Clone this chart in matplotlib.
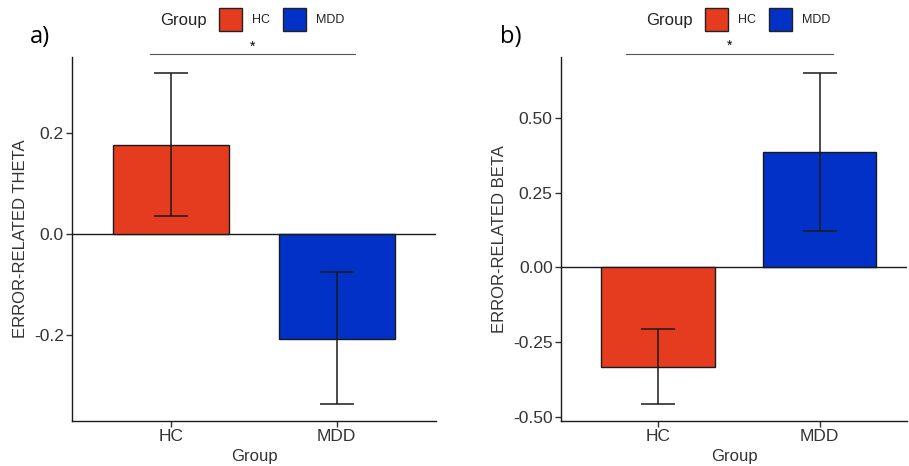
import numpy as np
import matplotlib.pyplot as plt
from matplotlib.patches import Rectangle

# data
groups = ["HC", "MDD"]
theta_mean = [0.177, -0.209]
theta_lo = [0.036, -0.338]
theta_hi = [0.320, -0.076]
beta_mean = [-0.333, 0.388]
beta_lo = [-0.459, 0.123]
beta_hi = [-0.206, 0.653]
colors = ["#E53B1F", "#0131C6"]

plt.rcParams["font.family"] = ["Liberation Sans", "DejaVu Sans"]

fig = plt.figure(figsize=(9.09, 4.66), dpi=100)
ax_a = fig.add_axes([72 / 909, 45 / 466, 364 / 909, 364 / 466])
ax_b = fig.add_axes([561 / 909, 45 / 466, 346 / 909, 364 / 466])


def draw_panel(ax, mean, lo, hi, xlim, ylim, yticks, ylabel, sig):
    x = np.arange(1, len(groups) + 1)
    mean = np.array(mean)
    err = [mean - np.array(lo), np.array(hi) - mean]
    ax.bar(x, mean, width=0.7, color=colors, edgecolor="#1a1a1a",
           linewidth=1.0, zorder=2)
    ax.errorbar(x, mean, yerr=err, fmt="none", ecolor="#1a1a1a",
                elinewidth=1.1, capsize=12, capthick=1.1, zorder=3)
    ax.axhline(0, color="#1a1a1a", linewidth=1.0, zorder=1)
    ax.set_xlim(*xlim)
    ax.set_ylim(*ylim)
    ax.set_xticks(x)
    ax.set_xticklabels(groups, fontsize=12.5)
    ax.set_yticks(yticks)
    ax.set_yticklabels([f"{t:.2f}" if sig[3] else f"{t:.1f}" for t in yticks],
                       fontsize=12.5, color="#333333")
    for lab in ax.get_xticklabels():
        lab.set_color("#333333")
    ax.set_xlabel("Group", fontsize=12, color="#333333", labelpad=3)
    ax.set_ylabel(ylabel, fontsize=12, color="#333333", labelpad=4)
    for s in ["top", "right"]:
        ax.spines[s].set_visible(False)
    for s in ["left", "bottom"]:
        ax.spines[s].set_linewidth(1.0)
        ax.spines[s].set_color("#1a1a1a")
    ax.tick_params(length=4, width=1.0, color="#333333", pad=2)
    # significance bar
    x0, x1, ybar, ystar = sig[0], sig[1], sig[2], sig[4]
    ax.plot([x0, x1], [ybar, ybar], color="#555555", linewidth=0.8,
            clip_on=False)
    ax.text((x0 + x1) / 2, ystar, "*", ha="center", va="center",
            fontsize=10, clip_on=False)


draw_panel(ax_a, theta_mean, theta_lo, theta_hi, (0.4, 2.6), (-0.372, 0.352),
           [-0.2, 0.0, 0.2], "ERROR-RELATED THETA",
           (0.87, 2.11, 0.358, False, 0.372))
draw_panel(ax_b, beta_mean, beta_lo, beta_hi, (0.4, 2.54), (-0.515, 0.706),
           [-0.50, -0.25, 0.0, 0.25, 0.50], "ERROR-RELATED BETA",
           (0.80, 2.08, 0.716, True, 0.742))

# panel letters
fig.text(30 / 909, 1 - 37 / 466, "a)", fontsize=17, va="center",
         family=["Open Sans", "DejaVu Sans"])
fig.text(500 / 909, 1 - 37 / 466, "b)", fontsize=17, va="center",
         family=["Open Sans", "DejaVu Sans"])

# legends drawn above each panel
for gx, sx in [(160, [219, 283]), (646, [705, 769])]:
    fig.text(gx / 909, 1 - 20 / 466, "Group", fontsize=12, va="center",
             color="#222222")
    for name, col, px in zip(groups, colors, sx):
        fig.patches.append(Rectangle((px / 909, 1 - 31 / 466), 23 / 909,
                                     23 / 466, transform=fig.transFigure,
                                     facecolor=col, edgecolor="#222222",
                                     linewidth=1.0))
        fig.text((px + 33) / 909, 1 - 20 / 466, name, fontsize=9,
                 va="center", color="#222222")

fig.savefig("out.png", dpi=100)
